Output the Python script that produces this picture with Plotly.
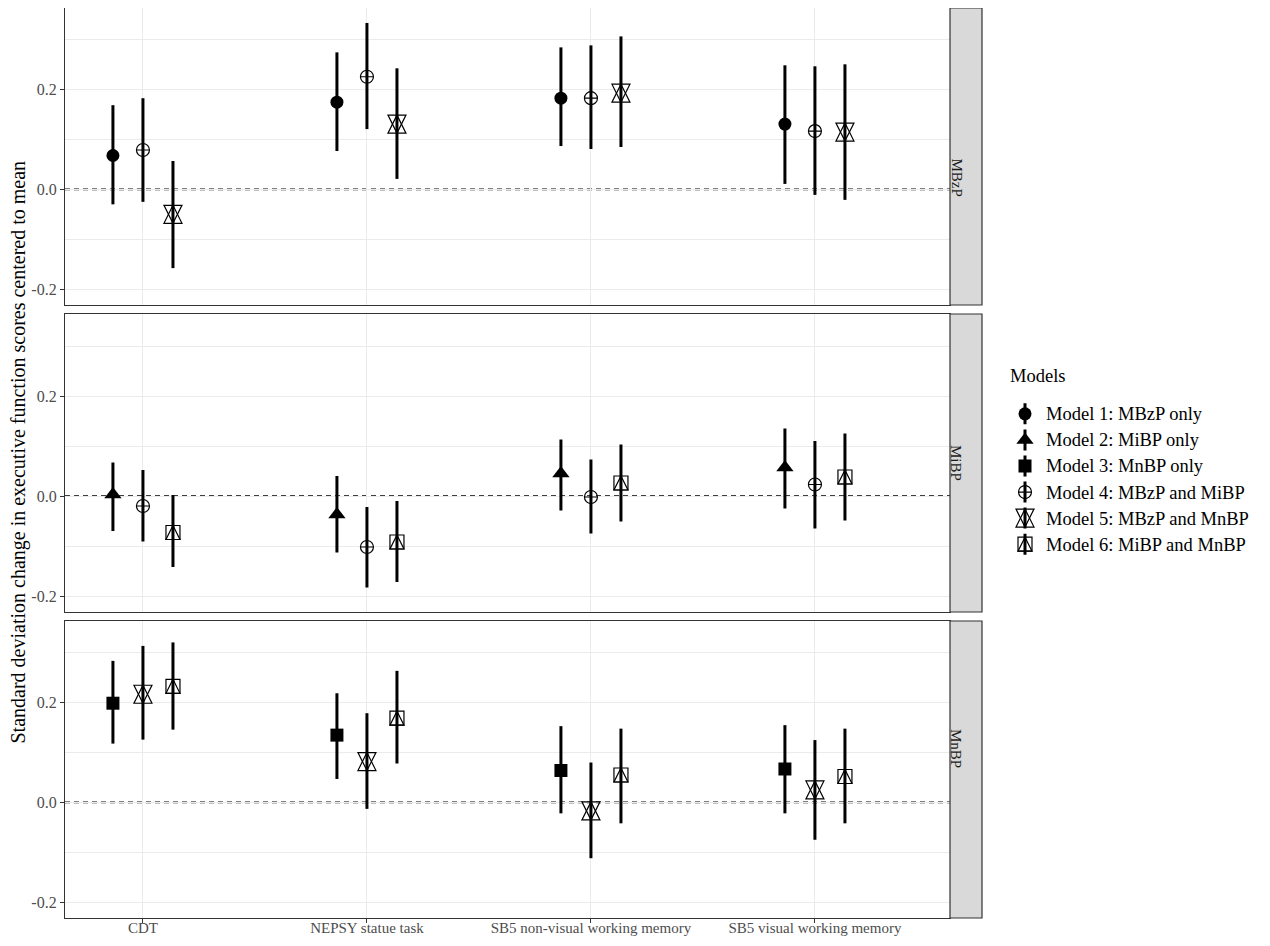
import plotly.graph_objects as go

# ---------------- data ----------------
outcomes = ["CDT", "NEPSY statue task", "SB5 non-visual working memory", "SB5 visual working memory"]
exposures = ["MBzP", "MiBP", "MnBP"]
models = ["Model 1: MBzP only", "Model 2: MiBP only", "Model 3: MnBP only",
          "Model 4: MBzP and MiBP", "Model 5: MBzP and MnBP", "Model 6: MiBP and MnBP"]

y_ticks = [-0.2, 0.0, 0.2]
y_tick_labels = ["-0.2", "0.0", "0.2"]
y_minor_ticks = [-0.1, 0.1, 0.3]

# MBzP panel (models 1, 4, 5)
mbzp_m1_est = [0.068, 0.175, 0.183, 0.131]
mbzp_m1_lo = [-0.030, 0.077, 0.087, 0.011]
mbzp_m1_hi = [0.169, 0.275, 0.285, 0.249]
mbzp_m4_est = [0.079, 0.226, 0.183, 0.117]
mbzp_m4_lo = [-0.025, 0.121, 0.081, -0.011]
mbzp_m4_hi = [0.183, 0.334, 0.289, 0.247]
mbzp_m5_est = [-0.050, 0.131, 0.193, 0.115]
mbzp_m5_lo = [-0.158, 0.021, 0.085, -0.021]
mbzp_m5_hi = [0.057, 0.243, 0.307, 0.251]

# MiBP panel (models 2, 4, 6)
mibp_m2_est = [0.003, -0.037, 0.045, 0.057]
mibp_m2_lo = [-0.070, -0.113, -0.029, -0.025]
mibp_m2_hi = [0.067, 0.040, 0.113, 0.135]
mibp_m4_est = [-0.020, -0.102, -0.002, 0.023]
mibp_m4_lo = [-0.091, -0.183, -0.075, -0.065]
mibp_m4_hi = [0.052, -0.022, 0.073, 0.110]
mibp_m6_est = [-0.073, -0.092, 0.026, 0.038]
mibp_m6_lo = [-0.142, -0.172, -0.051, -0.049]
mibp_m6_hi = [0.002, -0.010, 0.103, 0.125]

# MnBP panel (models 3, 5, 6)
mnbp_m3_est = [0.199, 0.135, 0.064, 0.067]
mnbp_m3_lo = [0.118, 0.047, -0.022, -0.022]
mnbp_m3_hi = [0.284, 0.219, 0.153, 0.155]
mnbp_m5_est = [0.217, 0.082, -0.017, 0.025]
mnbp_m5_lo = [0.126, -0.013, -0.112, -0.075]
mnbp_m5_hi = [0.314, 0.179, 0.080, 0.125]
mnbp_m6_est = [0.233, 0.169, 0.055, 0.052]
mnbp_m6_lo = [0.146, 0.078, -0.042, -0.042]
mnbp_m6_hi = [0.321, 0.264, 0.148, 0.148]

panels = [
    [(0, mbzp_m1_est, mbzp_m1_lo, mbzp_m1_hi),
     (3, mbzp_m4_est, mbzp_m4_lo, mbzp_m4_hi),
     (4, mbzp_m5_est, mbzp_m5_lo, mbzp_m5_hi)],
    [(1, mibp_m2_est, mibp_m2_lo, mibp_m2_hi),
     (3, mibp_m4_est, mibp_m4_lo, mibp_m4_hi),
     (5, mibp_m6_est, mibp_m6_lo, mibp_m6_hi)],
    [(2, mnbp_m3_est, mnbp_m3_lo, mnbp_m3_hi),
     (4, mnbp_m5_est, mnbp_m5_lo, mnbp_m5_hi),
     (5, mnbp_m6_est, mnbp_m6_lo, mnbp_m6_hi)],
]

# ---------------- styles ----------------
FONT = "Liberation Serif"
BORDER = "#333333"
GRID = "#ebebeb"
OPEN_W = 1.2

def model_symbols(m):
    """List of marker layers emulating the R pch symbols (16, 17, 15, 10, 11, 14)."""
    if m == 0:
        return [dict(symbol="circle", size=13, color="black", line=dict(width=0))]
    if m == 1:
        return [dict(symbol="triangle-up", size=15, color="black", line=dict(width=0))]
    if m == 2:
        return [dict(symbol="square", size=13, color="black", line=dict(width=0))]
    if m == 3:
        return [dict(symbol="circle-cross-open", size=13, color="black",
                     line=dict(width=OPEN_W, color="black"))]
    if m == 4:
        s = 18
        return [dict(symbol="arrow-down-open", size=s, angle=0, standoff=s / 2, color="black",
                     line=dict(width=OPEN_W, color="black")),
                dict(symbol="arrow-down-open", size=s, angle=180, standoff=s / 2, color="black",
                     line=dict(width=OPEN_W, color="black"))]
    s = 14
    return [dict(symbol="square-open", size=s, color="black",
                 line=dict(width=OPEN_W, color="black")),
            dict(symbol="arrow-down-open", size=s, angle=180, standoff=s / 2, color="black",
                 line=dict(width=OPEN_W, color="black"))]

# ---------------- geometry (page pixels -> paper) ----------------
OFF = 8                      # page body margin
W, H = 1270 - 2 * OFF, 946 - 2 * OFF
ML, MR, MT, MB = 65 - OFF, 7, 0, 20
PW, PH = W - ML - MR, H - MT - MB

def px_x(x):
    return (x - OFF - ML) / PW

def px_y(y):
    return 1 - (y - OFF - MT) / PH

panel_right = 950
strip_right = 982
panel_px = [(8, 305), (314, 612), (621, 918)]
x_dom = [0, px_x(panel_right)]
y_doms = [[px_y(b), px_y(t)] for t, b in panel_px]

dodge = 0.134
x_range = [0.652, 4.603]
y_range = [-0.232, 0.364]

fig = go.Figure()

for p, series in enumerate(panels):
    xa = "x" if p == 0 else f"x{p + 1}"
    ya = "y" if p == 0 else f"y{p + 1}"
    for k, (m, est, lo, hi) in enumerate(series):
        xs = [i + 1 + (k - 1) * dodge for i in range(len(outcomes))]
        plus = [h - e for h, e in zip(hi, est)]
        minus = [e - l for e, l in zip(est, lo)]
        for j, mk in enumerate(model_symbols(m)):
            tr = dict(x=xs, y=est, mode="markers", marker=mk, xaxis=xa, yaxis=ya,
                      showlegend=False, name=models[m], hoverinfo="skip")
            if j == 0:
                tr["error_y"] = dict(type="data", symmetric=False, array=plus, arrayminus=minus,
                                     thickness=3, width=0, color="black")
            fig.add_trace(go.Scatter(**tr))

# ---------------- legend drawn on its own small axis ----------------
for m, name in enumerate(models):
    fig.add_trace(go.Scatter(x=[0], y=[name], mode="markers", xaxis="x4", yaxis="y4",
                             marker=dict(symbol="line-ns-open", size=15, color="black",
                                         line=dict(width=3, color="black")),
                             showlegend=False, hoverinfo="skip"))
    for mk in model_symbols(m):
        fig.add_trace(go.Scatter(x=[0], y=[name], mode="markers", xaxis="x4", yaxis="y4",
                                 marker=mk, showlegend=False, hoverinfo="skip"))

row_h = 27.6
leg_center = 479
leg_top = leg_center - 3 * row_h
leg_bot = leg_center + 3 * row_h

layout = dict(
    width=W, height=H,
    margin=dict(l=ML, r=MR, t=MT, b=MB, autoexpand=False),
    paper_bgcolor="white", plot_bgcolor="white",
    font=dict(family=FONT, color="black"),
    showlegend=False,
)

for p in range(3):
    xkey = "xaxis" if p == 0 else f"xaxis{p + 1}"
    ykey = "yaxis" if p == 0 else f"yaxis{p + 1}"
    xa = "x" if p == 0 else f"x{p + 1}"
    ya = "y" if p == 0 else f"y{p + 1}"
    bottom = p == 2
    layout[xkey] = dict(
        domain=x_dom, anchor=ya, range=x_range,
        tickmode="array", tickvals=[1, 2, 3, 4], ticktext=outcomes,
        showticklabels=bottom, ticks="outside" if bottom else "",
        ticklen=4, tickwidth=1.1, tickcolor=BORDER, ticklabelstandoff=-8,
        tickfont=dict(family=FONT, size=15, color="#4d4d4d"),
        showgrid=True, gridcolor=GRID, gridwidth=1.1, zeroline=False,
        showline=True, mirror=True, linecolor=BORDER, linewidth=1.2,
        automargin=False,
    )
    layout[ykey] = dict(
        domain=y_doms[p], anchor=xa, range=y_range,
        tickmode="array", tickvals=y_ticks, ticktext=y_tick_labels,
        ticks="outside", ticklen=4, tickwidth=1.1, tickcolor=BORDER,
        tickfont=dict(family=FONT, size=16, color="#4d4d4d"),
        showgrid=True, gridcolor=GRID, gridwidth=1.1, zeroline=False,
        minor=dict(tickmode="array", tickvals=y_minor_ticks, showgrid=True,
                   gridcolor=GRID, gridwidth=0.6, ticks=""),
        showline=True, mirror=True, linecolor=BORDER, linewidth=1.2,
        automargin=False,
    )

layout["xaxis4"] = dict(domain=[px_x(1013), px_x(1037)], anchor="y4", range=[-1, 1],
                        visible=False, fixedrange=True)
layout["yaxis4"] = dict(domain=[px_y(leg_bot), px_y(leg_top)], anchor="x4", side="right",
                        type="category", categoryorder="array", categoryarray=models,
                        autorange="reversed", showgrid=False, zeroline=False, showline=False,
                        ticks="", ticklabelstandoff=8,
                        tickfont=dict(family=FONT, size=18.5, color="black"), automargin=False)

shapes = []
annotations = []
for p in range(3):
    ya = "y" if p == 0 else f"y{p + 1}"
    xa = "x" if p == 0 else f"x{p + 1}"
    shapes.append(dict(type="line", xref=f"{xa} domain", yref=ya, x0=0, x1=1, y0=0, y1=0,
                       line=dict(color="black", width=1.6, dash="5px,4px"), layer="below"))
    shapes.append(dict(type="rect", xref="paper", yref="paper",
                       x0=px_x(panel_right), x1=px_x(strip_right),
                       y0=y_doms[p][0], y1=y_doms[p][1],
                       fillcolor="#d9d9d9", line=dict(color=BORDER, width=1.2)))
    annotations.append(dict(xref="paper", yref="paper",
                            x=px_x((panel_right + strip_right) / 2),
                            y=(y_doms[p][0] + y_doms[p][1]) / 2,
                            text=exposures[p], textangle=90, showarrow=False,
                            font=dict(family=FONT, size=15, color="#1a1a1a")))

annotations.append(dict(xref="paper", yref="paper", x=px_x(17.5), y=px_y(452),
                        text="Standard deviation change in executive function scores centered to mean",
                        textangle=-90, showarrow=False, xanchor="center", yanchor="middle",
                        font=dict(family=FONT, size=20, color="black")))
annotations.append(dict(xref="paper", yref="paper", x=px_x(1008), y=px_y(376),
                        text="Models", showarrow=False, xanchor="left", yanchor="middle",
                        font=dict(family=FONT, size=18.5, color="black")))

layout["shapes"] = shapes
layout["annotations"] = annotations
fig.update_layout(**layout)

fig.write_html("out.html")
